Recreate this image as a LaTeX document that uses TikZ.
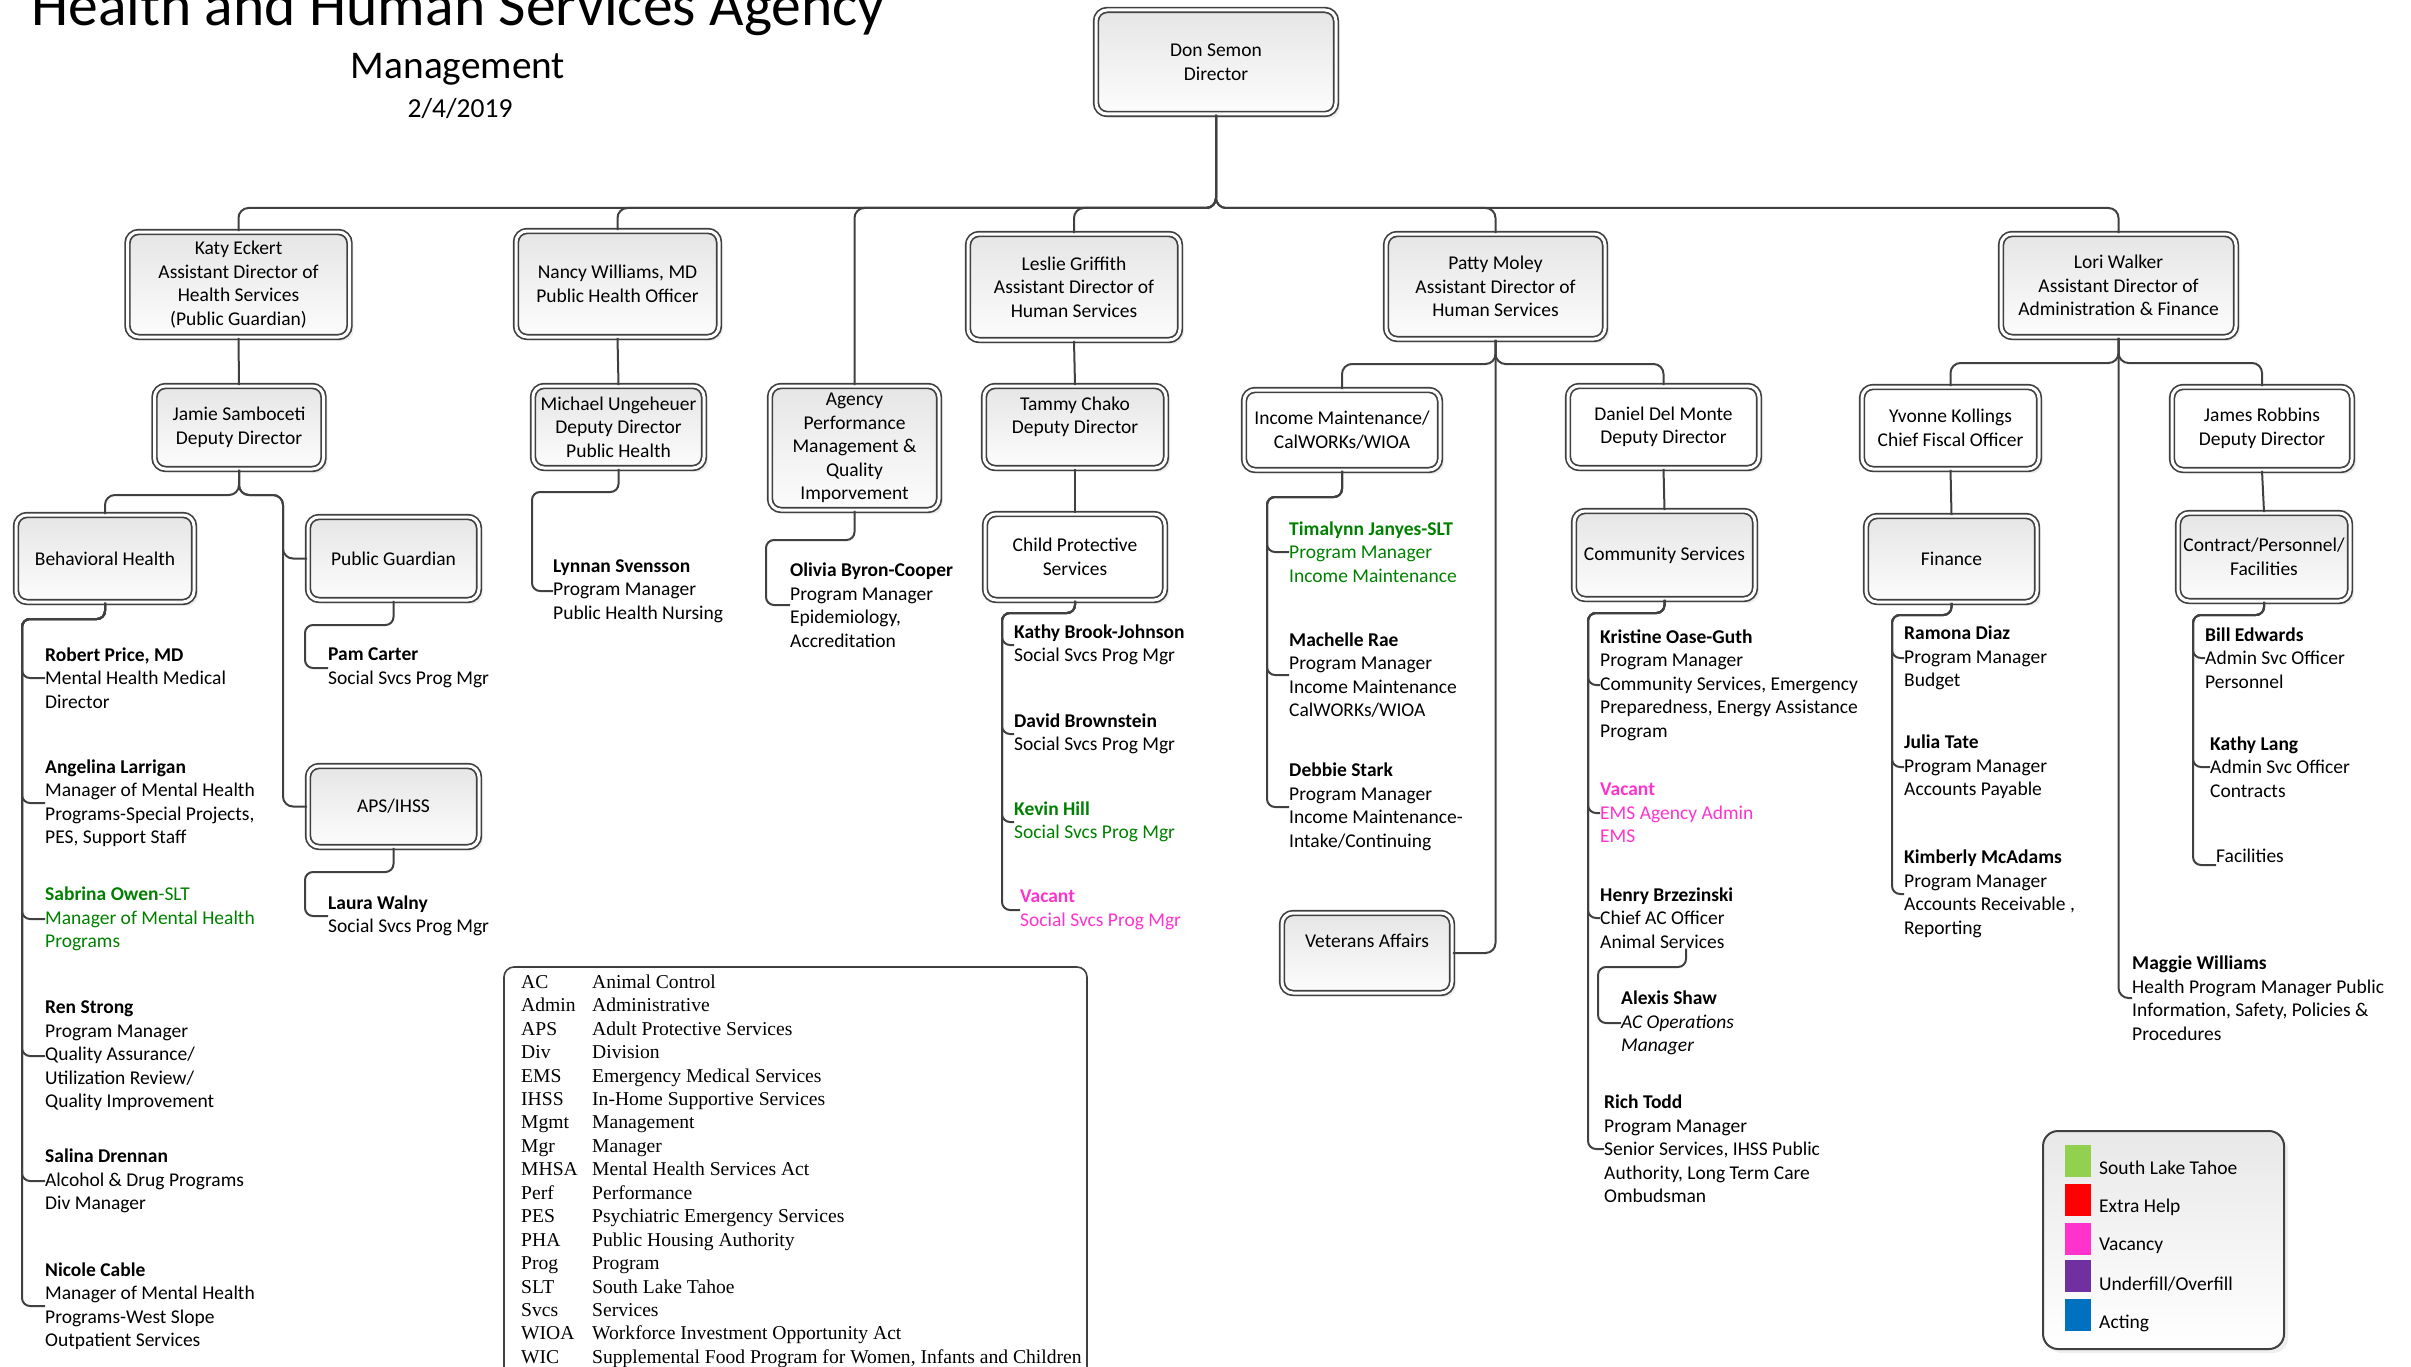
\documentclass[tikz,border=0pt]{standalone}
\usepackage{fontspec}
\setmainfont{Carlito}
\newfontfamily\glossfont{Liberation Serif}
\usetikzlibrary{shadows,calc}
\definecolor{lnc}{HTML}{404040}
\definecolor{slt}{HTML}{008000}
\definecolor{vac}{HTML}{FF33CC}
\definecolor{lgreen}{HTML}{92D050}
\definecolor{lred}{HTML}{FF0000}
\definecolor{lmag}{HTML}{FF33CC}
\definecolor{lpur}{HTML}{7030A0}
\definecolor{lblue}{HTML}{0070C0}
\newcommand\bxfont{\fontsize{19.5}{23.5}\selectfont}
\newcommand\glfont{\glossfont\fontsize{19.6}{23.44}\selectfont}
\newcommand\ab[1]{\makebox[71pt][l]{#1}}
\begin{document}
\begin{tikzpicture}[x=1pt,y=-1pt,
  conn/.style={draw=lnc, line width=2pt, rounded corners=10pt},
  lconn/.style={draw=lnc, line width=2pt, rounded corners=8pt},
  box/.style={draw=lnc, double=white, double distance=3pt, line width=1.7pt,
    rounded corners=11pt, top color=black!10, bottom color=black!1,
    drop shadow={shadow xshift=4pt, shadow yshift=-4pt, opacity=0.13},
    align=center, inner sep=2pt, font=\bxfont},
  wbox/.style={box, top color=white, bottom color=white},
  item/.style={anchor=west, align=left, inner sep=0pt, font=\bxfont},
  swatch/.style={minimum width=26pt, minimum height=32pt, inner sep=0pt, draw=none},
]
\useasboundingbox (0,0) rectangle (2411,1367);
\clip (0,0) rectangle (2411,1367);

% titles
\node[anchor=base, inner sep=0, font=\fontsize{59.6}{60}\selectfont] (title) at (458,26) {Health and Human Services Agency};
\node[anchor=base, inner sep=0, font=\fontsize{39.3}{40}\selectfont] (mgmt) at (458,79) {Management};
\node[anchor=base, inner sep=0, font=\fontsize{27.5}{28}\selectfont] (date) at (460,118) {2/4/2019};

% boxes
\node[box, minimum width=240pt, minimum height=104pt] (don) at (1216,62) {Don Semon\\Director};
\node[box, minimum width=222pt, minimum height=105pt] (katy) at (238.5,284.5) {Katy Eckert\\Assistant Director of\\Health Services\\(Public Guardian)};
\node[box, minimum width=203pt, minimum height=106pt] (nancy) at (617.5,284) {Nancy Williams, MD\\Public Health Officer};
\node[box, minimum width=212pt, minimum height=106pt] (leslie) at (1074,287) {Leslie Griffith\\Assistant Director of\\Human Services};
\node[box, minimum width=219pt, minimum height=105pt] (patty) at (1495.5,286.5) {Patty Moley\\Assistant Director of\\Human Services};
\node[box, minimum width=235pt, minimum height=103pt] (lori) at (2118.5,285.5) {Lori Walker\\Assistant Director of\\Administration \& Finance};

\node[box, minimum width=169pt, minimum height=83pt] (jamie) at (239,427.5) {Jamie Samboceti\\Deputy Director};
\node[box, minimum width=171pt, minimum height=82pt] (michael) at (618.5,427) {Michael Ungeheuer\\Deputy Director\\Public Health};
\node[box, minimum width=169pt, minimum height=124pt] (agency) at (854.5,448) {Agency\\Performance\\Management \&\\Quality\\Imporvement};
\node[box, minimum width=182pt, minimum height=82pt] (tammy) at (1075,427) {Tammy Chako\\Deputy Director\\\mbox{}};
\node[wbox, minimum width=196pt, minimum height=80pt] (income) at (1342,430) {Income Maintenance/\\CalWORKs/WIOA};
\node[wbox, minimum width=191pt, minimum height=82pt] (daniel) at (1663.5,427) {Daniel Del Monte\\Deputy Director};
\node[wbox, minimum width=177pt, minimum height=82pt] (yvonne) at (1950.5,428) {Yvonne Kollings\\Chief Fiscal Officer};
\node[wbox, minimum width=180pt, minimum height=83pt] (james) at (2262,428.5) {James Robbins\\Deputy Director};

\node[box, minimum width=178pt, minimum height=87pt] (behav) at (105,558.5) {Behavioral Health};
\node[box, minimum width=171pt, minimum height=83pt] (pubg) at (393.5,558.5) {Public Guardian};
\node[box, minimum width=171pt, minimum height=81pt] (aps) at (393.5,806.5) {APS/IHSS};
\node[wbox, minimum width=180pt, minimum height=86pt] (cps) at (1075,557) {Child Protective\\Services};
\node[box, minimum width=170pt, minimum height=80pt] (veterans) at (1367,953) {Veterans Affairs\\\mbox{}};
\node[box, minimum width=181pt, minimum height=88pt] (commun) at (1664.5,555) {Community Services};
\node[box, minimum width=171pt, minimum height=86pt] (finance) at (1951.5,559) {Finance};
\node[box, minimum width=172pt, minimum height=88pt] (contract) at (2264,557) {Contract/Personnel/\\Facilities};

% list items
\node[item] (rp) at (45,678) {\textbf{Robert Price, MD}\\Mental Health Medical\\Director};
\node[item] (al) at (45,803) {\textbf{Angelina Larrigan}\\Manager of Mental Health\\Programs-Special Projects,\\PES, Support Staff};
\node[item, text=slt] (so) at (45,919) {\textbf{Sabrina Owen}-SLT\\Manager of Mental Health\\Programs};
\node[item] (rs) at (45,1056) {\textbf{Ren Strong}\\Program Manager\\Quality Assurance/\\Utilization Review/\\Quality Improvement};
\node[item] (sd) at (45,1181) {\textbf{Salina Drennan}\\Alcohol \& Drug Programs\\Div Manager};
\node[item] (nc) at (45,1306) {\textbf{Nicole Cable}\\Manager of Mental Health\\Programs-West Slope\\Outpatient Services};

\node[item] (pc) at (328,668) {\textbf{Pam Carter}\\Social Svcs Prog Mgr};
\node[item] (lw) at (328,916) {\textbf{Laura Walny}\\Social Svcs Prog Mgr};
\node[item] (ls) at (553,591) {\textbf{Lynnan Svensson}\\Program Manager\\Public Health Nursing};
\node[item] (ob) at (790,605) {\textbf{Olivia Byron-Cooper}\\Program Manager\\Epidemiology,\\Accreditation};

\node[item] (kbj) at (1014,645) {\textbf{Kathy Brook-Johnson}\\Social Svcs Prog Mgr};
\node[item] (db) at (1014,734) {\textbf{David Brownstein}\\Social Svcs Prog Mgr};
\node[item, text=slt] (kh) at (1014,822) {\textbf{Kevin Hill}\\Social Svcs Prog Mgr};
\node[item, text=vac] (vc1) at (1020,910) {\textbf{Vacant}\\Social Svcs Prog Mgr};

\node[item, text=slt] (tj) at (1289,552) {\textbf{Timalynn Janyes-SLT}\\Program Manager\\Income Maintenance};
\node[item] (mr) at (1289,675) {\textbf{Machelle Rae}\\Program Manager\\Income Maintenance\\CalWORKs/WIOA};
\node[item] (ds) at (1289,807) {\textbf{Debbie Stark}\\Program Manager\\Income Maintenance-\\Intake/Continuing};

\node[item] (ko) at (1600,685) {\textbf{Kristine Oase-Guth}\\Program Manager\\Community Services, Emergency\\Preparedness, Energy Assistance\\Program};
\node[item, text=vac] (vc2) at (1600,813) {\textbf{Vacant}\\EMS Agency Admin\\EMS};
\node[item] (hb) at (1600,918) {\textbf{Henry Brzezinski}\\Chief AC Officer\\Animal Services};
\node[item] (as) at (1621,1023) {\textbf{Alexis Shaw}\\\textit{AC Operations}\\\textit{Manager}};
\node[item] (rt) at (1604,1149) {\textbf{Rich Todd}\\Program Manager\\Senior Services, IHSS Public\\Authority, Long Term Care\\Ombudsman};

\node[item] (rd) at (1904,658) {\textbf{Ramona Diaz}\\Program Manager\\Budget};
\node[item] (jt) at (1904,767) {\textbf{Julia Tate}\\Program Manager\\Accounts Payable};
\node[item] (km) at (1904,894) {\textbf{Kimberly McAdams}\\Program Manager\\Accounts Receivable ,\\Reporting};

\node[item] (be) at (2205,658) {\textbf{Bill Edwards}\\Admin Svc Officer\\Personnel};
\node[item] (kl) at (2210,767) {\textbf{Kathy Lang}\\Admin Svc Officer\\Contracts};
\node[item] (fac) at (2216,856) {Facilities};
\node[item] (mw) at (2132,998) {\textbf{Maggie Williams}\\Health Program Manager Public\\Information, Safety, Policies \&\\Procedures};

% connectors: top level
\coordinate (bus) at (0,208);
\foreach \n in {katy,nancy,agency,leslie,patty,lori}
  \draw[conn] (don.south) |- (\n.north |- bus) -- (\n.north);
\draw[conn] (katy.south) -- (jamie.north);
\draw[conn] (nancy.south) -- (michael.north);
\draw[conn] (leslie.south) -- (tammy.north);
\draw[conn] (tammy.south) -- (cps.north);
\coordinate (pbus) at (0,364);
\draw[conn] (patty.south) |- (income.north |- pbus) -- (income.north);
\draw[conn] (patty.south) |- (daniel.north |- pbus) -- (daniel.north);
\draw[conn] (patty.south) |- (veterans.east);
\draw[conn] (daniel.south) -- (commun.north);
\coordinate (lbus) at (0,363);
\draw[conn] (lori.south) |- (yvonne.north |- lbus) -- (yvonne.north);
\draw[conn] (lori.south) |- (james.north |- lbus) -- (james.north);
\draw[conn] (lori.south) |- (mw.west);
\draw[conn] (yvonne.south) -- (finance.north);
\draw[conn] (james.south) -- (contract.north);
% Katy branch
\coordinate (jbus) at (0,495);
\draw[conn] (jamie.south) |- (behav.north |- jbus) -- (behav.north);
\draw[conn] (jamie.south) |- (283,495) |- (pubg.west);
\draw[conn] (jamie.south) |- (283,495) |- (aps.west);

% lists
\foreach \n in {rp,al,so,rs,sd,nc}
  \draw[lconn] (behav.south) |- (22,619) |- (\n.west);
\draw[lconn] (pubg.south) |- (305,625) |- (pc.west);
\draw[lconn] (aps.south) |- (305,872) |- (lw.west);
\draw[lconn] (michael.south) |- (532,492) |- (ls.west);
\draw[lconn] (agency.south) |- (766,540) |- (ob.west);
\foreach \n in {kbj,db,kh,vc1}
  \draw[lconn] (cps.south) |- (1002,613) |- (\n.west);
\foreach \n in {tj,mr,ds}
  \draw[lconn] (income.south) |- (1267,497) |- (\n.west);
\foreach \n in {ko,vc2,hb,rt}
  \draw[lconn] (commun.south) |- (1588,613) |- (\n.west);
\draw[lconn] ($(hb.south west)+(86,0)$) |- (1598,967) |- (as.west);
\foreach \n in {rd,jt,km}
  \draw[lconn] (finance.south) |- (1892,615) |- (\n.west);
\foreach \n in {be,kl}
  \draw[lconn] (contract.south) |- (2193,615) |- (\n.west);
\draw[lconn] (contract.south) |- (2193,615) |- ($(fac.west)+(0,9)$);

% glossary
\draw[draw=lnc, line width=1.6pt, rounded corners=10pt] (504,1380) -- (504,967) -- (1087,967) -- (1087,1380);
\node[anchor=north west, inner sep=0pt, align=left, font=\glfont] (gloss) at (521,974.5) {%
\ab{AC}Animal Control\\
\ab{Admin}Administrative\\
\ab{APS}Adult Protective Services\\
\ab{Div}Division\\
\ab{EMS}Emergency Medical Services\\
\ab{IHSS}In-Home Supportive Services\\
\ab{Mgmt}Management\\
\ab{Mgr}Manager\\
\ab{MHSA}Mental Health Services Act\\
\ab{Perf}Performance\\
\ab{PES}Psychiatric Emergency Services\\
\ab{PHA}Public Housing Authority\\
\ab{Prog}Program\\
\ab{SLT}South Lake Tahoe\\
\ab{Svcs}Services\\
\ab{WIOA}Workforce Investment Opportunity Act\\
\ab{WIC}Supplemental Food Program for Women, Infants and Children};

% legend
\node[draw=lnc, line width=2pt, rounded corners=15pt, top color=black!9, bottom color=white,
  drop shadow={shadow xshift=4pt, shadow yshift=-4pt, opacity=0.13},
  minimum width=241pt, minimum height=218pt] (legend) at (2163.5,1240) {};
\node[swatch, fill=lgreen] (s1) at (2078,1161) {};
\node[swatch, fill=lred] (s2) at (2078,1200) {};
\node[swatch, fill=lmag] (s3) at (2078,1239) {};
\node[swatch, fill=lpur] (s4) at (2078,1276) {};
\node[swatch, fill=lblue] (s5) at (2078,1315) {};
\node[item] (t1) at (2099,1168) {South Lake Tahoe};
\node[item] (t2) at (2099,1207) {Extra Help};
\node[item] (t3) at (2099,1246) {Vacancy};
\node[item] (t4) at (2099,1284) {Underfill/Overfill};
\node[item] (t5) at (2099,1323) {Acting};
\end{tikzpicture}
\end{document}
